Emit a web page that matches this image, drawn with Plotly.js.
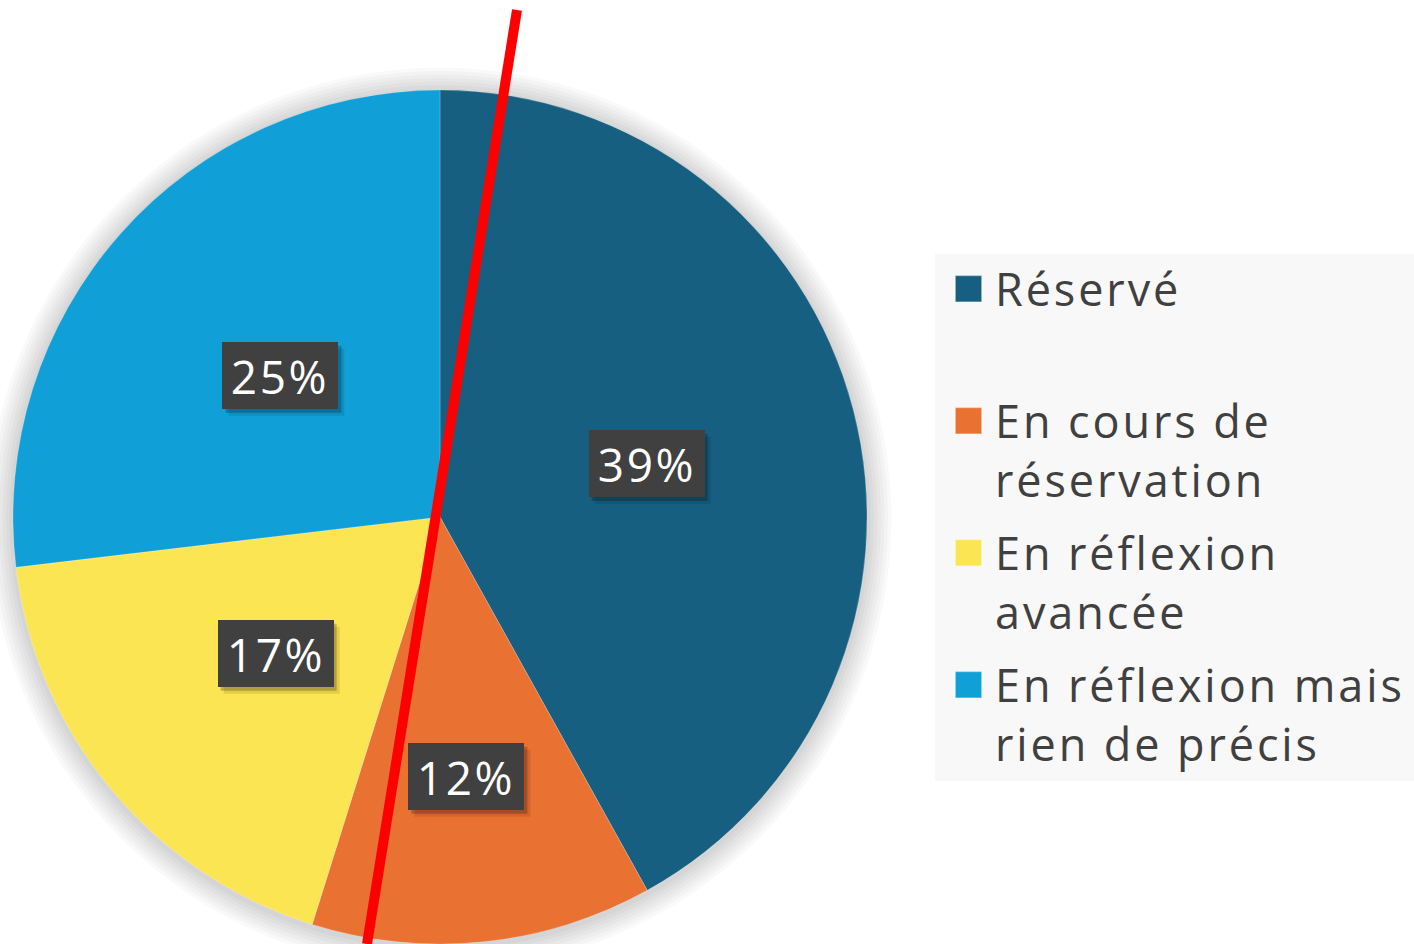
<!DOCTYPE html>
<html><head><meta charset="utf-8">
<script src="https://cdn.plot.ly/plotly-3.0.1.min.js"></script>
<style>
html,body{margin:0;padding:0;background:#fff;overflow:hidden}
.legendtext { letter-spacing: 2.9px; }
.annotation-text { letter-spacing: 2.6px; }
</style>
</head><body><div id="chart" style="width:1414px;height:944px"></div>
<script>
// ---- data ----
const categories = ["Réservé", "En cours de<br>réservation", "En réflexion<br>avancée", "En réflexion mais<br>rien de précis"];
const values = [39, 12, 17, 25];
const colors = ["#165F81", "#E97132", "#FCE552", "#119FD7"];

// ---- layout constants ----
const W = 1414, H = 944;
const cx = 440, cy = 517, R = 427;            // pie centre / radius in px
const labelRadiusFrac = [0.5, 0.61, 0.5, 0.5];
const font = '"Open Sans", sans-serif';
const labelSize = 46, letterSp = 2.6, boxH = 67;
const legendExtraGap = 12;

const domain = {
  x: [(cx - R) / W, (cx + R) / W],
  y: [1 - (cy + R) / H, 1 - (cy - R) / H]
};

// legend labels: single-line entries padded to two lines like the original
const legendLabels = categories.map(c => c.indexOf('<br>') >= 0 ? c : c + '<br>\u00a0');

const trace = {
  type: 'pie',
  labels: legendLabels,
  values: values,
  sort: false,
  direction: 'clockwise',
  rotation: 0,
  marker: {colors: colors, line: {color: 'rgba(255,255,255,0.35)', width: 0.6}},
  textinfo: 'none',
  hoverinfo: 'label+percent',
  domain: domain
};

// measure label text width
const ctx = document.createElement('canvas').getContext('2d');
ctx.font = labelSize + 'px "Open Sans"';
function textW(t) { return ctx.measureText(t).width + letterSp * t.length; }

const shapes = [];
// soft shadow around the pie
for (let k = 1; k <= 7; k++) {
  const rr = R + k * 3.5;
  shapes.push({
    type: 'circle', xref: 'paper', yref: 'paper', layer: 'below',
    x0: (cx - rr) / W, x1: (cx + rr) / W,
    y0: 1 - (cy + 2 + rr) / H, y1: 1 - (cy + 2 - rr) / H,
    fillcolor: 'rgba(0,0,0,0.022)', line: {width: 0}
  });
}

// data labels computed from slice angles
const total = values.reduce((a, b) => a + b, 0);
const annotations = [];
let cum = 0;
values.forEach((v, i) => {
  const mid = (cum + v / 2) / total * 2 * Math.PI;
  cum += v;
  const r = labelRadiusFrac[i] * R;
  const px = cx + r * Math.sin(mid);
  const py = cy - r * Math.cos(mid);
  const txt = v + '%';
  const w = Math.round(textW(txt) + 18);
  // drop shadow of the label box
  [[6, 7, 0.10], [3, 4, 0.22]].forEach(([dx, dy, a]) => {
    shapes.push({
      type: 'rect', xref: 'paper', yref: 'paper', layer: 'above',
      x0: (px - w / 2 + dx) / W, x1: (px + w / 2 + dx) / W,
      y0: 1 - (py + boxH / 2 + dy) / H, y1: 1 - (py - boxH / 2 + dy) / H,
      fillcolor: 'rgba(0,0,0,' + a + ')', line: {width: 0}
    });
  });
  annotations.push({
    x: px / W, y: 1 - py / H, xref: 'paper', yref: 'paper',
    showarrow: false, text: txt, width: w, height: boxH,
    borderpad: 0, borderwidth: 0, bgcolor: '#404040',
    xanchor: 'center', yanchor: 'middle',
    font: {family: font, size: labelSize, color: '#ffffff'}
  });
});

// legend background
shapes.push({
  type: 'rect', xref: 'paper', yref: 'paper', layer: 'below',
  x0: 935 / W, x1: 1, y0: 1 - 781 / H, y1: 1 - 254 / H,
  fillcolor: '#F8F8F8', line: {width: 0}
});
// red overlay line
shapes.push({
  type: 'line', xref: 'paper', yref: 'paper', layer: 'above',
  x0: 517 / W, y0: 1 - 10 / H, x1: 367 / W, y1: 1 - 944 / H,
  line: {color: '#FF0000', width: 10}
});

const layout = {
  width: W, height: H,
  margin: {l: 0, r: 0, t: 0, b: 0},
  paper_bgcolor: '#ffffff',
  font: {family: font, color: '#404040'},
  showlegend: true,
  legend: {
    x: 955 / W, y: 1 - 253 / H, xanchor: 'left', yanchor: 'top',
    bgcolor: 'rgba(0,0,0,0)', font: {family: font, size: 45, color: '#404040'},
    valign: 'top', traceorder: 'normal'
  },
  annotations: annotations,
  shapes: shapes
};

Plotly.newPlot('chart', [trace], layout, {displayModeBar: false, staticPlot: true}).then(gd => {
  // enlarge the legend squares to match the original
  gd.querySelectorAll('.legendpie').forEach(p => {
    p.setAttribute('transform', 'translate(13.5,0) scale(2.2)');
  });
  // wider spacing between legend entries, as in the original
  const sb = gd.querySelector('.legend .scrollbox');
  if (sb) sb.removeAttribute('clip-path');
  gd.querySelectorAll('.legend .traces').forEach((g, i) => {
    const m = /translate\(\s*([-\d.]+)[ ,]+([-\d.]+)\s*\)/.exec(g.getAttribute('transform') || '');
    if (m) g.setAttribute('transform', 'translate(' + m[1] + ',' + (parseFloat(m[2]) + i * legendExtraGap) + ')');
  });
});
</script>
</body></html>
